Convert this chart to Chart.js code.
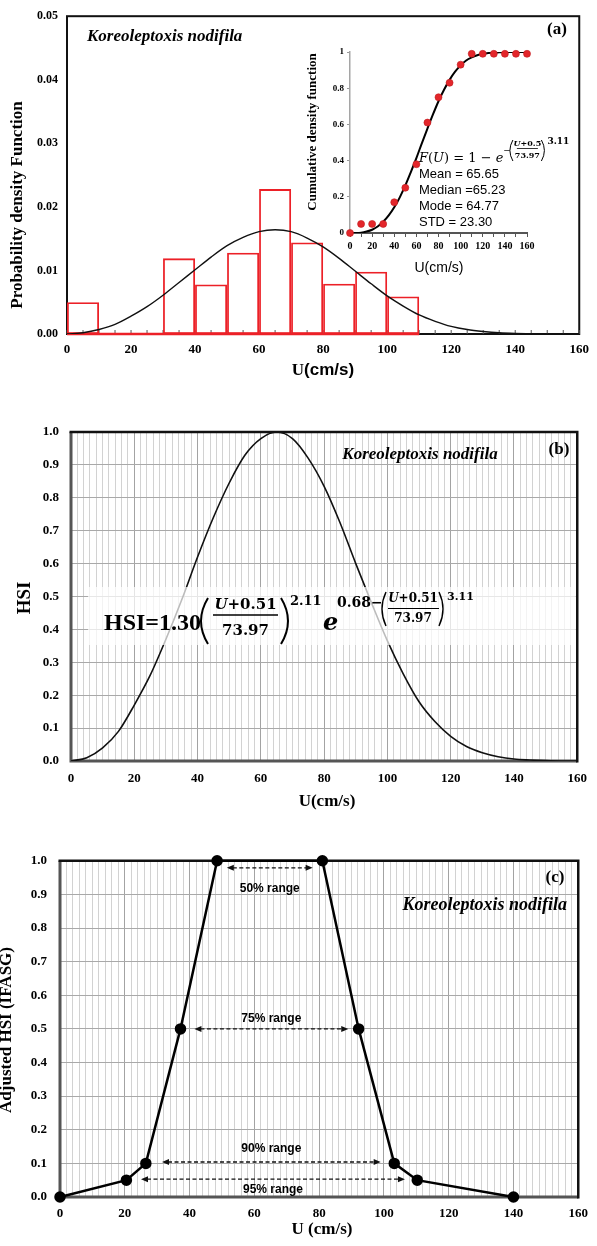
<!DOCTYPE html>
<html>
<head>
<meta charset="utf-8">
<script src="https://cdn.jsdelivr.net/npm/chart.js@4.4.1/dist/chart.umd.min.js"></script>
<style>
  body { margin: 0; background: #fff; width: 597px; height: 1246px; position: relative; overflow: hidden; }
  .box { position: absolute; }
</style>
</head>
<body>
<div class="box" style="left:0;top:0"><canvas id="pdfChart" width="597" height="390"></canvas></div>
<div class="box" style="left:300px;top:40px"><canvas id="cdfChart" width="290" height="240"></canvas></div>
<div class="box" style="left:0;top:410px"><canvas id="hsiChart" width="597" height="400"></canvas></div>
<div class="box" style="left:0;top:840px"><canvas id="adjChart" width="597" height="406"></canvas></div>
<script>
// ---- data ----
const binEdges = [0, 10, 20, 30, 40, 50, 60, 70, 80, 90, 100, 110];
const binDensity = [0.005, 0, 0, 0.0119, 0.0078, 0.0128, 0.0228, 0.0144, 0.0079, 0.0098, 0.0059];

const curveU = [0, 5, 10, 15, 20, 25, 30, 35, 40, 45, 50, 55, 60, 65, 70, 75, 80,
                85, 90, 95, 100, 105, 110, 115, 120, 125, 130, 135, 140, 145, 150, 155, 160];
const pdfFit = [0, 0.0002, 0.0007, 0.0015, 0.0028, 0.0043, 0.0061, 0.0081, 0.0101, 0.0121, 0.0139,
                0.0152, 0.0161, 0.0164, 0.0161, 0.0151, 0.0137, 0.0119, 0.0099, 0.0079, 0.0060,
                0.0044, 0.0030, 0.0020, 0.0012, 0.0007, 0.0004, 0.0002, 0.0001, 0.00005, 0, 0, 0];
const cdfFit = [0, 0.0003, 0.002, 0.008, 0.018, 0.036, 0.062, 0.097, 0.142, 0.197, 0.263,
                0.337, 0.414, 0.497, 0.577, 0.655, 0.728, 0.791, 0.846, 0.891, 0.926,
                0.953, 0.970, 0.982, 0.990, 0.994, 0.997, 0.998, 0.999, 1, 1, 1, 1];
const hsiFit = [0, 0.01, 0.04, 0.09, 0.17, 0.26, 0.37, 0.49, 0.62, 0.74, 0.845,
                0.93, 0.98, 1.0, 0.98, 0.92, 0.835, 0.725, 0.60, 0.48, 0.365,
                0.265, 0.18, 0.12, 0.075, 0.044, 0.025, 0.013, 0.006, 0.003, 0.001, 0, 0];

const cdfObsU = [0, 10, 20, 30, 40, 50, 60, 70, 80, 90, 100, 110, 120, 130, 140, 150, 160];
const cdfObs = [0, 0.05, 0.05, 0.05, 0.17, 0.25, 0.38, 0.61, 0.75, 0.83, 0.93, 0.99, 0.99, 0.99, 0.99, 0.99, 0.99];

const adjU = [0, 20.5, 26.5, 37.2, 48.5, 81, 92.2, 103.2, 110.3, 140];
const adjHSI = [0, 0.05, 0.1, 0.5, 1.0, 1.0, 0.5, 0.1, 0.05, 0];

const rangeNames = ['50% range', '75% range', '90% range', '95% range'];
const rangeLow = [51.5, 41.5, 31.5, 25];
const rangeHigh = [78, 89, 99, 106.5];
const rangeLevel = [1.0, 0.5, 0.1, 0.05];

const statLines = ['Mean = 65.65', 'Median =65.23', 'Mode = 64.77', 'STD = 23.30'];
const species = 'Koreoleptoxis nodifila';

// ---- helpers ----
const SERIF = '"Liberation Serif", "Times New Roman", serif';
const SANS = '"Liberation Sans", Arial, sans-serif';
const MATH = '"DejaVu Serif", serif';

Chart.defaults.font.family = SERIF;
Chart.defaults.color = '#000';

const pts = (xs, ys) => xs.map((x, i) => ({ x: x, y: ys[i] }));

function text(ctx, s, x, y, font, align, base) {
  ctx.save();
  ctx.font = font;
  ctx.fillStyle = '#000';
  ctx.textAlign = align || 'center';
  ctx.textBaseline = base || 'middle';
  ctx.fillText(s, x, y);
  ctx.restore();
}

function vtext(ctx, s, x, y, font) {
  ctx.save();
  ctx.translate(x, y);
  ctx.rotate(-Math.PI / 2);
  text(ctx, s, 0, 0, font);
  ctx.restore();
}

// draws pieces one after another on a baseline, returns end x
function run(ctx, parts, x, y) {
  ctx.save();
  ctx.fillStyle = '#000';
  ctx.textAlign = 'left';
  ctx.textBaseline = 'alphabetic';
  parts.forEach(p => {
    ctx.font = p[1];
    ctx.fillText(p[0], x, y);
    x += ctx.measureText(p[0]).width;
  });
  ctx.restore();
  return x;
}

function paren(ctx, xl, xr, top, bottom, open, lw) {
  ctx.save();
  ctx.strokeStyle = '#000';
  ctx.lineWidth = lw;
  ctx.beginPath();
  if (open) {
    ctx.moveTo(xr, top);
    ctx.quadraticCurveTo(2 * xl - xr, (top + bottom) / 2, xr, bottom);
  } else {
    ctx.moveTo(xl, top);
    ctx.quadraticCurveTo(2 * xr - xl, (top + bottom) / 2, xl, bottom);
  }
  ctx.stroke();
  ctx.restore();
}

function frac(ctx, num, den, cx, numY, barY, denY, x1, x2, font, lw) {
  ctx.save();
  let w = 0;
  num.forEach(p => { ctx.font = p[1]; w += ctx.measureText(p[0]).width; });
  ctx.textBaseline = 'middle';
  ctx.fillStyle = '#000';
  let x = cx - w / 2;
  num.forEach(p => { ctx.font = p[1]; ctx.fillText(p[0], x, numY); x += ctx.measureText(p[0]).width; });
  ctx.font = font;
  ctx.textAlign = 'center';
  ctx.fillText(den, cx, denY);
  ctx.strokeStyle = '#000';
  ctx.lineWidth = lw;
  ctx.beginPath();
  ctx.moveTo(x1, barY);
  ctx.lineTo(x2, barY);
  ctx.stroke();
  ctx.restore();
}

function frame(ctx, a) {
  ctx.save();
  ctx.lineWidth = 3;
  ctx.strokeStyle = '#555';
  ctx.beginPath();
  ctx.moveTo(a.left, a.top);
  ctx.lineTo(a.left, a.bottom);
  ctx.lineTo(a.right, a.bottom);
  ctx.stroke();
  ctx.lineWidth = 2.5;
  ctx.strokeStyle = '#111';
  ctx.beginPath();
  ctx.moveTo(a.left - 1.5, a.top);
  ctx.lineTo(a.right, a.top);
  ctx.lineTo(a.right, a.bottom + 1.5);
  ctx.stroke();
  ctx.restore();
}

function arrow(ctx, x1, x2, y) {
  const head = (tip, dir) => {
    ctx.beginPath();
    ctx.moveTo(tip, y);
    ctx.lineTo(tip - dir * 7, y - 3);
    ctx.lineTo(tip - dir * 7, y + 3);
    ctx.closePath();
    ctx.fill();
  };
  ctx.save();
  ctx.strokeStyle = '#111';
  ctx.fillStyle = '#111';
  ctx.lineWidth = 1.3;
  ctx.setLineDash([4, 2.5]);
  ctx.beginPath();
  ctx.moveTo(x1 + 6, y);
  ctx.lineTo(x2 - 6, y);
  ctx.stroke();
  ctx.setLineDash([]);
  head(x1, -1);
  head(x2, 1);
  ctx.restore();
}

const xLabel20 = v => (v % 20 === 0 ? v : '');

// ---- (a) histogram + pdf ----
const panelA = {
  id: 'panelA',
  beforeDatasetsDraw(chart) {
    const { ctx, chartArea: a } = chart;
    const x = chart.scales.x;
    ctx.save();
    ctx.strokeStyle = '#111';
    ctx.lineWidth = 2;
    ctx.strokeRect(a.left, a.top, a.right - a.left, a.bottom - a.top);
    ctx.lineWidth = 1;
    ctx.strokeStyle = '#555';
    x.ticks.forEach(t => {
      const px = x.getPixelForValue(t.value);
      ctx.beginPath();
      ctx.moveTo(px, a.bottom);
      ctx.lineTo(px, a.bottom - 4);
      ctx.stroke();
    });
    ctx.restore();
  },
  afterDraw(chart) {
    const ctx = chart.ctx;
    text(ctx, species, 87, 37, 'italic bold 17px ' + SERIF, 'left');
    text(ctx, '(a)', 557, 30, 'bold 17px ' + SERIF);
    vtext(ctx, 'Probability density Function', 18, 205, 'bold 17px ' + SERIF);
    ctx.save();
    ctx.font = 'bold 17px ' + SERIF;
    const wU = ctx.measureText('U').width;
    ctx.font = 'bold 17px ' + SANS;
    const wR = ctx.measureText('(cm/s)').width;
    ctx.restore();
    run(ctx, [['U', 'bold 17px ' + SERIF], ['(cm/s)', 'bold 17px ' + SANS]], 323 - (wU + wR) / 2, 375);
  }
};

const binMid = binDensity.map((d, i) => (binEdges[i] + binEdges[i + 1]) / 2);

new Chart(document.getElementById('pdfChart'), {
  type: 'bar',
  data: {
    datasets: [
      {
        type: 'line',
        data: pts(curveU, pdfFit),
        borderColor: '#111',
        borderWidth: 1.4,
        pointRadius: 0,
        cubicInterpolationMode: 'monotone',
        order: 0
      },
      {
        type: 'line',
        data: [{ x: binEdges[0], y: 0 }, { x: binEdges[binEdges.length - 1], y: 0 }],
        borderColor: '#ec2027',
        borderWidth: 2.5,
        pointRadius: 0,
        clip: false,
        order: 1
      },
      {
        type: 'bar',
        data: pts(binMid, binDensity),
        backgroundColor: 'rgba(0,0,0,0)',
        borderColor: '#ec2027',
        borderWidth: 1.8,
        borderSkipped: false,
        inflateAmount: 0,
        barThickness: 'flex',
        barPercentage: 1,
        categoryPercentage: 1,
        order: 2
      }
    ]
  },
  options: {
    responsive: false,
    animation: false,
    devicePixelRatio: 1,
    layout: { padding: { top: 11, right: 17, left: 0, bottom: 0 } },
    plugins: { legend: { display: false }, tooltip: { enabled: false } },
    scales: {
      x: {
        type: 'linear', min: 0, max: 160, offset: false,
        ticks: { stepSize: 5, autoSkip: false, maxRotation: 0, minRotation: 0, callback: xLabel20,
                 font: { size: 13, weight: 'bold' }, padding: 8 },
        grid: { display: false, drawTicks: false, offset: false },
        border: { display: false },
        afterFit: s => { s.height = 56; }
      },
      y: {
        min: 0, max: 0.05,
        ticks: { stepSize: 0.01, callback: v => v.toFixed(2), font: { size: 12, weight: 'bold' }, padding: 9 },
        grid: { display: false, drawTicks: false },
        border: { display: false },
        afterFit: s => { s.width = 67; }
      }
    }
  },
  plugins: [panelA]
});

// ---- (a) inset: cdf ----
const panelInset = {
  id: 'panelInset',
  afterDraw(chart) {
    const ctx = chart.ctx;
    vtext(ctx, 'Cumulative density function', 13, 92, 'bold 13px ' + SERIF);
    text(ctx, 'U(cm/s)', 139, 228, '14px ' + SANS);

    // F(U) = 1 - e^{-((U+0.5)/73.97)^3.11}
    const f = '13px ' + MATH, fi = 'italic 13px ' + MATH;
    const e = run(ctx, [['F', fi], ['(', f], ['U', fi], [')', f], [' = 1 \u2212 ', f], ['e', fi]], 119, 122);
    text(ctx, '\u2212', e + 3.5, 111, '9px ' + MATH);
    paren(ctx, e + 6.5, e + 9.5, 100, 121, true, 1);
    frac(ctx, [['U', 'italic bold 8px ' + MATH], ['+0.5', 'bold 8px ' + MATH]], '73.97',
         e + 24, 104, 108.5, 115.5, e + 13.5, e + 34.5, 'bold 8px ' + MATH, 0.8);
    paren(ctx, e + 38, e + 41, 100, 121, false, 1);
    text(ctx, '3.11', e + 44, 102, 'bold 9px ' + MATH, 'left');

    statLines.forEach((s, i) => text(ctx, s, 119, 137.5 + i * 16.3, '13px ' + SANS, 'left', 'alphabetic'));
  }
};

new Chart(document.getElementById('cdfChart'), {
  type: 'line',
  data: {
    datasets: [
      {
        data: pts(curveU, cdfFit),
        borderColor: '#000',
        borderWidth: 2,
        pointRadius: 0,
        cubicInterpolationMode: 'monotone',
        order: 1
      },
      {
        data: pts(cdfObsU, cdfObs),
        showLine: false,
        pointRadius: 3.5,
        pointBackgroundColor: '#e3262b',
        pointBorderColor: '#c01b1f',
        pointBorderWidth: 0.6,
        clip: false,
        order: 0
      }
    ]
  },
  options: {
    responsive: false,
    animation: false,
    devicePixelRatio: 1,
    layout: { padding: { top: 12, right: 63, left: 0, bottom: 0 } },
    plugins: { legend: { display: false }, tooltip: { enabled: false } },
    scales: {
      x: {
        type: 'linear', min: 0, max: 160,
        ticks: { stepSize: 10, autoSkip: false, maxRotation: 0, minRotation: 0, callback: xLabel20,
                 font: { size: 10, weight: 'bold' }, padding: 3 },
        grid: { drawOnChartArea: false, drawTicks: true, tickLength: 4, color: '#555' },
        border: { color: '#555', width: 2 },
        afterFit: s => { s.height = 47; }
      },
      y: {
        min: 0, max: 1,
        ticks: { stepSize: 0.2, callback: v => (v === 0 || v === 1 ? String(v) : v.toFixed(1)),
                 font: { size: 9, weight: 'bold' }, padding: 3 },
        grid: { drawOnChartArea: false, drawTicks: true, tickLength: 3, color: '#999' },
        border: { color: '#a5a5a5', width: 1.5 },
        afterFit: s => { s.width = 50; }
      }
    }
  },
  plugins: [panelInset]
});

// ---- (b) HSI ----
const gridX = c => (c.tick && c.tick.value % 20 === 0 ? '#a3a3a3' : '#d2d2d2');

const panelB = {
  id: 'panelB',
  beforeDatasetsDraw(chart) { frame(chart.ctx, chart.chartArea); },
  afterDatasetsDraw(chart) {
    const { ctx, chartArea: a } = chart;
    ctx.save();
    ctx.fillStyle = 'rgba(255,255,255,0.72)';
    ctx.fillRect(88, 177, a.right - 89.5, 58);
    ctx.restore();

    run(ctx, [['HSI=1.30', 'bold 24px ' + SERIF]], 104, 220);
    paren(ctx, 201, 208, 188, 234, true, 2);
    frac(ctx, [['U', 'italic bold 15px ' + MATH], ['+0.51', 'bold 15px ' + MATH]], '73.97',
         245.5, 195, 205, 221, 213, 278, 'bold 15px ' + MATH, 1.3);
    paren(ctx, 281, 288, 188, 234, false, 2);
    text(ctx, '2.11', 290, 192, 'bold 13px ' + MATH, 'left');
    run(ctx, [['e', 'italic bold 24px ' + MATH]], 323, 220);
    text(ctx, '0.68\u2212', 337, 193, 'bold 14px ' + MATH, 'left');
    paren(ctx, 382, 386, 182, 216, true, 1.4);
    frac(ctx, [['U', 'italic bold 12px ' + MATH], ['+0.51', 'bold 12px ' + MATH]], '73.97',
         413, 189, 198.5, 209, 388, 439, 'bold 12px ' + MATH, 1);
    paren(ctx, 439, 443, 182, 216, false, 1.4);
    text(ctx, '3.11', 447, 187.5, 'bold 11px ' + MATH, 'left');
  },
  afterDraw(chart) {
    const ctx = chart.ctx;
    text(ctx, species, 420, 45, 'italic bold 17px ' + SERIF);
    text(ctx, '(b)', 559, 40, 'bold 17px ' + SERIF);
    vtext(ctx, 'HSI', 25, 188, 'bold 19px ' + SERIF);
    text(ctx, 'U(cm/s)', 327, 396, 'bold 17px ' + SERIF, 'center', 'alphabetic');
  }
};

const gridScales = (left, bottom, yPad, xPad) => ({
  x: {
    type: 'linear', min: 0, max: 160,
    ticks: { stepSize: 2, autoSkip: false, maxRotation: 0, minRotation: 0, callback: xLabel20,
             font: { size: 13, weight: 'bold' }, padding: xPad },
    grid: { color: gridX, lineWidth: 1, drawTicks: false },
    border: { display: false },
    afterFit: s => { s.height = bottom; }
  },
  y: {
    min: 0, max: 1,
    ticks: { stepSize: 0.1, callback: v => v.toFixed(1), font: { size: 13, weight: 'bold' }, padding: yPad },
    grid: { color: '#a9a9a9', lineWidth: 1, drawTicks: false },
    border: { display: false },
    afterFit: s => { s.width = left; }
  }
});

new Chart(document.getElementById('hsiChart'), {
  type: 'line',
  data: {
    datasets: [{
      data: pts(curveU, hsiFit),
      borderColor: '#111',
      borderWidth: 1.6,
      pointRadius: 0,
      cubicInterpolationMode: 'monotone'
    }]
  },
  options: {
    responsive: false,
    animation: false,
    devicePixelRatio: 1,
    layout: { padding: { top: 22, right: 14, left: 0, bottom: 0 } },
    plugins: { legend: { display: false }, tooltip: { enabled: false } },
    scales: gridScales(71, 49, 12, 10)
  },
  plugins: [panelB]
});

// ---- (c) adjusted HSI ----
const arrowShift = [7, 0, -1.4, -1];
const labelShift = [21, -10, -13.5, 10];

const panelC = {
  id: 'panelC',
  beforeDatasetsDraw(chart) { frame(chart.ctx, chart.chartArea); },
  afterDatasetsDraw(chart) {
    const { ctx } = chart;
    const xs = chart.scales.x, ys = chart.scales.y;
    rangeNames.forEach((name, i) => {
      const x1 = xs.getPixelForValue(rangeLow[i]);
      const x2 = xs.getPixelForValue(rangeHigh[i]);
      const y = ys.getPixelForValue(rangeLevel[i]) + arrowShift[i];
      arrow(ctx, x1, x2, y);
      text(ctx, name, (x1 + x2) / 2, y + labelShift[i], 'bold 12px ' + SANS);
    });
  },
  afterDraw(chart) {
    const ctx = chart.ctx;
    text(ctx, '(c)', 555, 38, 'bold 17px ' + SERIF);
    text(ctx, species, 567, 65, 'italic bold 18px ' + SERIF, 'right');
    vtext(ctx, 'Adjusted HSI (IFASG)', 7, 190, 'bold 17px ' + SERIF);
    text(ctx, 'U (cm/s)', 322, 394, 'bold 17px ' + SERIF, 'center', 'alphabetic');
  }
};

new Chart(document.getElementById('adjChart'), {
  type: 'line',
  data: {
    datasets: [{
      data: pts(adjU, adjHSI),
      borderColor: '#000',
      borderWidth: 2.5,
      pointRadius: 4.5,
      pointBackgroundColor: '#000',
      pointBorderColor: '#000',
      tension: 0,
      clip: false
    }]
  },
  options: {
    responsive: false,
    animation: false,
    devicePixelRatio: 1,
    layout: { padding: { top: 15, right: 16, left: 0, bottom: 0 } },
    plugins: { legend: { display: false }, tooltip: { enabled: false } },
    scales: gridScales(60, 49, 13, 9)
  },
  plugins: [panelC]
});
</script>
</body>
</html>
